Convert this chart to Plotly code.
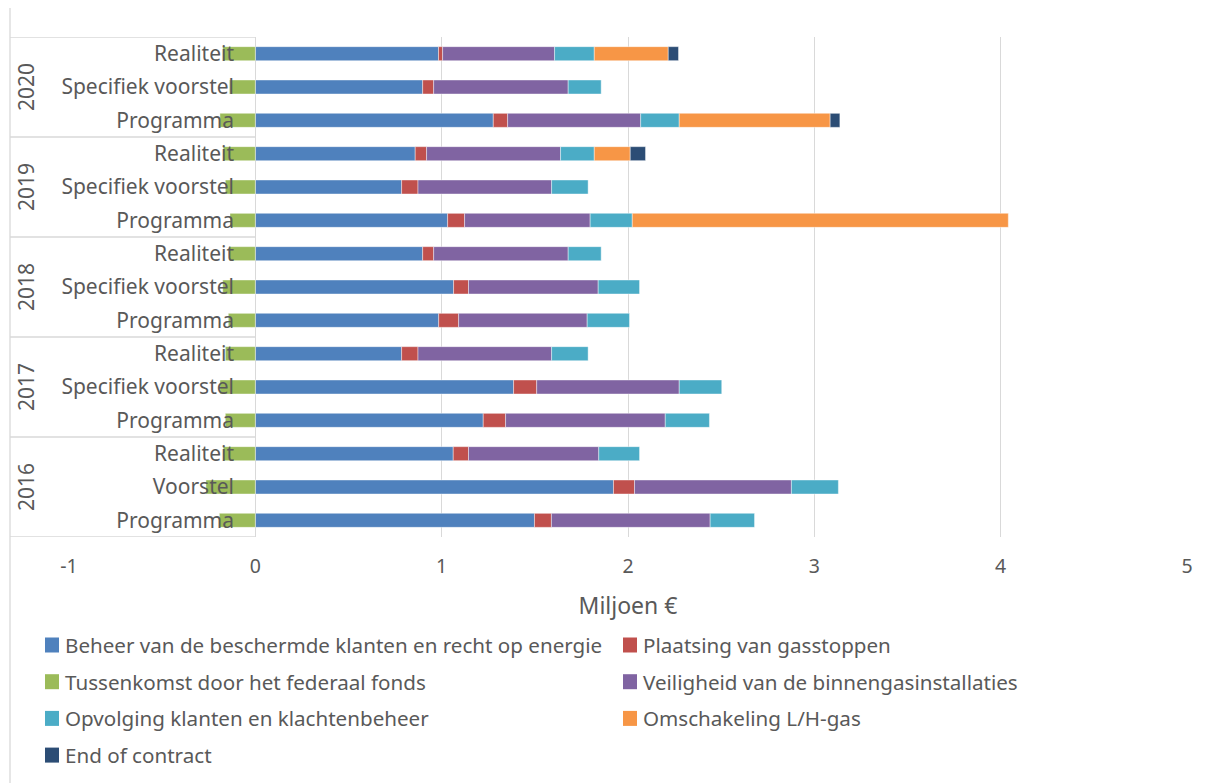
import plotly.graph_objects as go

# ---------------- data (top row first) ----------------
years = ["2020", "2020", "2020", "2019", "2019", "2019", "2018", "2018", "2018",
         "2017", "2017", "2017", "2016", "2016", "2016"]
types = ["Realiteit", "Specifiek voorstel", "Programma",
         "Realiteit", "Specifiek voorstel", "Programma",
         "Realiteit", "Specifiek voorstel", "Programma",
         "Realiteit", "Specifiek voorstel", "Programma",
         "Realiteit", "Voorstel", "Programma"]

beheer = [0.983, 0.898, 1.277, 0.858, 0.785, 1.032, 0.898, 1.064, 0.984,
          0.785, 1.386, 1.223, 1.062, 1.922, 1.498]
plaatsing = [0.022, 0.059, 0.077, 0.061, 0.088, 0.091, 0.059, 0.080, 0.107,
             0.088, 0.124, 0.120, 0.082, 0.113, 0.091]
tussenkomst = [-0.175, -0.139, -0.190, -0.172, -0.161, -0.136, -0.139, -0.175, -0.145,
               -0.161, -0.190, -0.161, -0.172, -0.265, -0.193]
veiligheid = [0.601, 0.722, 0.714, 0.719, 0.717, 0.674, 0.722, 0.696, 0.690,
              0.717, 0.765, 0.857, 0.699, 0.842, 0.852]
opvolging = [0.213, 0.177, 0.207, 0.181, 0.196, 0.226, 0.177, 0.222, 0.227,
             0.196, 0.228, 0.237, 0.219, 0.252, 0.238]
omschakeling = [0.397, None, 0.810, 0.193, None, 2.018, None, None, None,
                None, None, None, None, None, None]
end_contract = [0.055, None, 0.052, 0.082, None, None, None, None, None,
                None, None, None, None, None, None]

series_names = ["Beheer van de beschermde klanten en recht op energie",
                "Plaatsing van gasstoppen",
                "Tussenkomst door het federaal fonds",
                "Veiligheid van de binnengasinstallaties",
                "Opvolging klanten en klachtenbeheer",
                "Omschakeling L/H-gas",
                "End of contract"]
series_values = [beheer, plaatsing, tussenkomst, veiligheid, opvolging, omschakeling, end_contract]
series_colors = ["#4F81BD", "#C0504D", "#9BBB59", "#8064A2", "#4BACC6", "#F79646", "#2C4D75"]

x_ticks = [-1, 0, 1, 2, 3, 4, 5]
x_tick_labels = ["-1", "0", "1", "2", "3", "4", "5"]
x_title = "Miljoen €"

# ---------------- layout helpers (page pixel coords, body margin 8px) ----------------
OFF = 8
W, H = 1215 - OFF, 783 - OFF
PL, PT, PR, PB = 69, 37, 1187, 537          # plot area in page pixels
L, T = PL - OFF, PT - OFF
PW, PH = PR - PL, PB - PT
R, B = W - L - PW, H - T - PH


def px(x):
    return (x - PL) / PW


def py(y):
    return (PB - y) / PH


FONT = "Noto Sans"
GREY = "#595959"
LINE = "#D9D9D9"

keys = [f"{y} {t}" for y, t in zip(years, types)]

fig = go.Figure()
for name, vals, col in zip(series_names, series_values, series_colors):
    fig.add_trace(go.Bar(
        y=keys, x=vals, name=name, orientation="h",
        marker=dict(color=col, line=dict(width=0.6, color="rgba(255,255,255,0.7)")),
        showlegend=False,
    ))

shapes = []
annotations = []

# category table lines
n = len(keys)
year_groups = []
for i, yv in enumerate(years):
    if not year_groups or year_groups[-1][0] != yv:
        year_groups.append([yv, i, i])
    else:
        year_groups[-1][2] = i
bounds = sorted({g[1] - 0.5 for g in year_groups} | {g[2] + 0.5 for g in year_groups})
for bnd in bounds:
    shapes.append(dict(type="line", xref="paper", yref="y", x0=px(10), x1=px(256),
                       y0=bnd, y1=bnd, line=dict(color=LINE, width=1.3), layer="below"))
for g in year_groups:
    annotations.append(dict(text=g[0], xref="paper", yref="y", x=px(26),
                            y=(g[1] + g[2]) / 2, textangle=-90, showarrow=False,
                            font=dict(family=FONT, size=21, color=GREY),
                            xanchor="center", yanchor="middle"))

# chart border (top and left)
shapes.append(dict(type="line", xref="paper", yref="paper", x0=px(10), x1=px(1220),
                   y0=py(7), y1=py(7), line=dict(color=LINE, width=1.3)))
shapes.append(dict(type="line", xref="paper", yref="paper", x0=px(10), x1=px(10),
                   y0=py(7), y1=py(790), line=dict(color=LINE, width=1.3)))

# legend (manual, 2 columns)
for i, (name, col) in enumerate(zip(series_names, series_colors)):
    r, c = divmod(i, 2)
    cx = 45 + c * 578
    cy = 645 + r * 36.7
    shapes.append(dict(type="rect", xref="paper", yref="paper",
                       x0=px(cx), x1=px(cx + 14), y0=py(cy - 7.5), y1=py(cy + 7.5),
                       fillcolor=col, line=dict(width=0)))
    annotations.append(dict(text=name, xref="paper", yref="paper", x=px(cx + 18), y=py(cy),
                            xanchor="left", yanchor="middle", showarrow=False,
                            font=dict(family=FONT, size=20.6, color=GREY)))

fig.update_layout(
    width=W, height=H,
    margin=dict(l=L, r=R, t=T, b=B),
    paper_bgcolor="white", plot_bgcolor="white",
    barmode="relative", bargap=0.58,
    font=dict(family=FONT, color=GREY),
    xaxis=dict(range=[-1, 5], tickvals=x_ticks, ticktext=x_tick_labels,
               showgrid=True, gridcolor=LINE, gridwidth=1.3,
               zeroline=True, zerolinecolor=LINE, zerolinewidth=1.3,
               tickfont=dict(family=FONT, size=19.5, color=GREY),
               ticks="outside", ticklen=12, tickcolor="rgba(0,0,0,0)",
               title=dict(text=x_title, font=dict(family=FONT, size=23, color=GREY), standoff=19),
               showline=False, fixedrange=True),
    yaxis=dict(type="category", range=[n - 0.5, -0.5], tickvals=keys, ticktext=types,
               anchor="free", position=px(256), showgrid=False, showline=False, zeroline=False,
               ticks="", ticklabelstandoff=22,
               tickfont=dict(family=FONT, size=21, color=GREY), fixedrange=True),
    shapes=shapes, annotations=annotations,
)

fig.write_html("out.html")
